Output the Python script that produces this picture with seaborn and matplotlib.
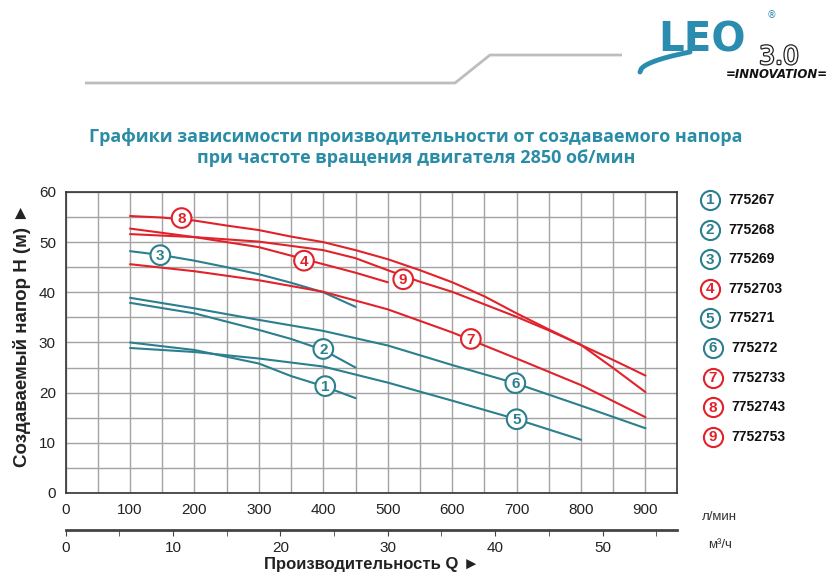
import numpy as np
import pandas as pd
import matplotlib.pyplot as plt
import seaborn as sns
from matplotlib.ticker import MultipleLocator
import matplotlib.patheffects as pe

# модели насосов (подписи легенды)
models = ['775267', '775268', '775269', '7752703', '775271',
          '775272', '7752733', '7752743', '7752753']
kinds = ['t', 't', 't', 'r', 't', 't', 'r', 'r', 'r']

# кривые Q (л/мин) - H (м)
q_1 = [100, 200, 300, 350, 400, 450]
h_1 = [30.0, 28.5, 25.8, 23.3, 21.3, 18.9]
q_2 = [100, 200, 300, 350, 400, 450]
h_2 = [37.9, 35.8, 32.5, 30.7, 28.5, 25.0]
q_3 = [100, 150, 200, 250, 300, 350, 400, 450]
h_3 = [48.2, 47.4, 46.3, 45.0, 43.6, 41.9, 40.0, 37.1]
q_4 = [100, 200, 300, 350, 400, 450, 500]
h_4 = [52.7, 51.0, 49.0, 47.3, 45.6, 43.9, 42.0]
q_5 = [100, 200, 300, 400, 500, 600, 700, 800]
h_5 = [28.9, 28.1, 26.8, 25.2, 22.0, 18.4, 14.7, 10.6]
q_6 = [100, 200, 300, 400, 500, 600, 700, 800, 900]
h_6 = [38.9, 36.8, 34.5, 32.3, 29.4, 25.5, 21.8, 17.4, 12.9]
q_7 = [100, 200, 300, 400, 500, 600, 700, 800, 900]
h_7 = [45.6, 44.2, 42.4, 40.1, 36.6, 32.0, 26.8, 21.5, 15.1]
q_8 = [100, 150, 200, 250, 300, 350, 400, 450, 500, 550, 600, 650, 700, 750, 800, 850, 900]
h_8 = [55.2, 54.9, 54.3, 53.3, 52.4, 51.1, 50.0, 48.4, 46.6, 44.4, 42.0, 39.2, 35.8, 32.6, 29.5, 24.9, 20.1]
q_9 = [100, 200, 300, 400, 450, 500, 550, 600, 650, 700, 750, 800, 850, 900]
h_9 = [51.6, 51.0, 50.1, 48.4, 46.8, 44.4, 42.1, 40.1, 37.6, 35.1, 32.4, 29.5, 26.5, 23.4]

curves = [(q_1, h_1), (q_2, h_2), (q_3, h_3), (q_4, h_4), (q_5, h_5),
          (q_6, h_6), (q_7, h_7), (q_8, h_8), (q_9, h_9)]

# где стоят кружки с номерами на кривых
label_q = [403, 400, 147, 370, 700, 698, 629, 180, 524]
label_h = [21.3, 28.7, 47.4, 46.3, 14.7, 21.9, 30.7, 54.8, 42.6]

x_ticks = [0, 100, 200, 300, 400, 500, 600, 700, 800, 900]
m3h_ticks = [0, 10, 20, 30, 40, 50]

TEAL = '#2b7f8e'
RED = '#e2222a'
TITLE = '#2b8ca6'
LEO = '#2a8db0'

df = pd.concat([pd.DataFrame({'q': q, 'h': h, 'model': m})
                for m, (q, h) in zip(models, curves)])
palette = {m: (TEAL if k == 't' else RED) for m, k in zip(models, kinds)}

sns.set_style('white')
plt.rcParams['font.family'] = ['Liberation Sans Narrow', 'Liberation Sans', 'DejaVu Sans']

fig = plt.figure(figsize=(8.4, 5.78), dpi=100)
ax = fig.add_axes([0.0781, 0.1471, 0.7279, 0.5208])

sns.lineplot(data=df, x='q', y='h', hue='model', palette=palette,
             estimator=None, sort=False, lw=1.5, legend=False, ax=ax, zorder=3)

cols = [palette[m] for m in models]
ax.scatter(label_q, label_h, s=200, facecolor='white', edgecolor=cols,
           linewidth=1.5, zorder=5)
for i, (xq, yh) in enumerate(zip(label_q, label_h)):
    ax.text(xq, yh - 0.2, str(i + 1), color=cols[i], fontsize=11, fontweight='bold',
            ha='center', va='center', zorder=6, family=['Liberation Sans', 'DejaVu Sans'])

ax.set_xlim(0, 949)
ax.set_ylim(0, 60)
ax.set_xticks(x_ticks)
ax.xaxis.set_minor_locator(MultipleLocator(50))
ax.yaxis.set_major_locator(MultipleLocator(10))
ax.yaxis.set_minor_locator(MultipleLocator(5))
ax.set_axisbelow(True)
ax.grid(which='both', color='#a3a3a3', lw=1.0)
ax.set_xlabel('')
ax.set_ylabel('')
for s in ax.spines.values():
    s.set_color('#333333')
    s.set_linewidth(1.2)
ax.tick_params(which='both', direction='out', length=4, color='#444444',
               labelsize=11, labelcolor='#222222', pad=3)

# вторая шкала в м³/ч
sec = ax.secondary_xaxis(-0.123, functions=(lambda x: x * 0.06, lambda x: x / 0.06))
sec.set_xticks(m3h_ticks)
sec.xaxis.set_minor_locator(MultipleLocator(5))
sec.spines['bottom'].set_linewidth(2)
sec.spines['bottom'].set_color('#444444')
sec.tick_params(which='both', direction='out', length=4, color='#444444',
                labelsize=11, labelcolor='#222222', pad=4)

fig.text(0.857, 0.105, 'л/мин', fontsize=9.5, color='#333333', ha='center', va='center')
fig.text(0.857, 0.057, 'м³/ч', fontsize=9.5, color='#333333', ha='center', va='center')
fig.text(0.442, 0.023, 'Производительность Q ►', fontsize=12, fontweight='bold',
         color='#222222', ha='center', va='center')
fig.text(0.026, 0.42, 'Создаваемый напор H (м) ►', fontsize=13.5, fontweight='bold',
         color='#222222', ha='center', va='center', rotation=90)

fig.text(0.495, 0.745, 'Графики зависимости производительности от создаваемого напора\n'
         'при частоте вращения двигателя 2850 об/мин',
         fontsize=13, fontweight='bold', color=TITLE, ha='center', va='center',
         linespacing=1.25, family=['Open Sans', 'DejaVu Sans'])

# оформление: легенда справа, линия и логотип (в пикселях)
deco = fig.add_axes([0, 0, 1, 1], zorder=-1)
deco.set_xlim(0, 840)
deco.set_ylim(578, 0)
deco.axis('off')

for i, m in enumerate(models):
    yy = 200 + i * 29.6
    xx = 710 if i < 5 else 713
    deco.scatter([xx], [yy], s=190, facecolor='white', edgecolor=cols[i], linewidth=1.5)
    deco.text(xx, yy + 0.5, str(i + 1), color=cols[i], fontsize=11, fontweight='bold',
              ha='center', va='center', family=['Liberation Sans', 'DejaVu Sans'])
    deco.text(xx + 18, yy, m, fontsize=10, fontweight='bold', color='#111111',
              ha='left', va='center', family=['Liberation Sans', 'DejaVu Sans'])

deco.plot([85, 455, 490, 622], [83, 83, 55, 55], color='#bdbdbd', lw=2, solid_capstyle='butt')

# логотип
t = np.linspace(0, 1, 40)
deco.plot(640 + 50 * t, 72 - 20 * np.sqrt(t), color=LEO, lw=3.5, solid_capstyle='round')
deco.text(702, 40, 'LEO', fontsize=29, fontweight='heavy', color=LEO,
          ha='center', va='center', family=['DejaVu Sans'])
deco.text(779, 57, '3.0', fontsize=18, color='white', ha='center', va='center',
          family=['DejaVu Sans'],
          path_effects=[pe.withStroke(linewidth=1.8, foreground='#222222')])
deco.text(777, 74, '=INNOVATION=', fontsize=8.5, fontweight='bold', style='italic',
          color='#111111', ha='center', va='center', family=['DejaVu Sans'])
deco.text(771, 15, '®', fontsize=7, color=LEO, ha='center', va='center',
          family=['DejaVu Sans'])

fig.savefig('out.png', dpi=100, facecolor='white')
